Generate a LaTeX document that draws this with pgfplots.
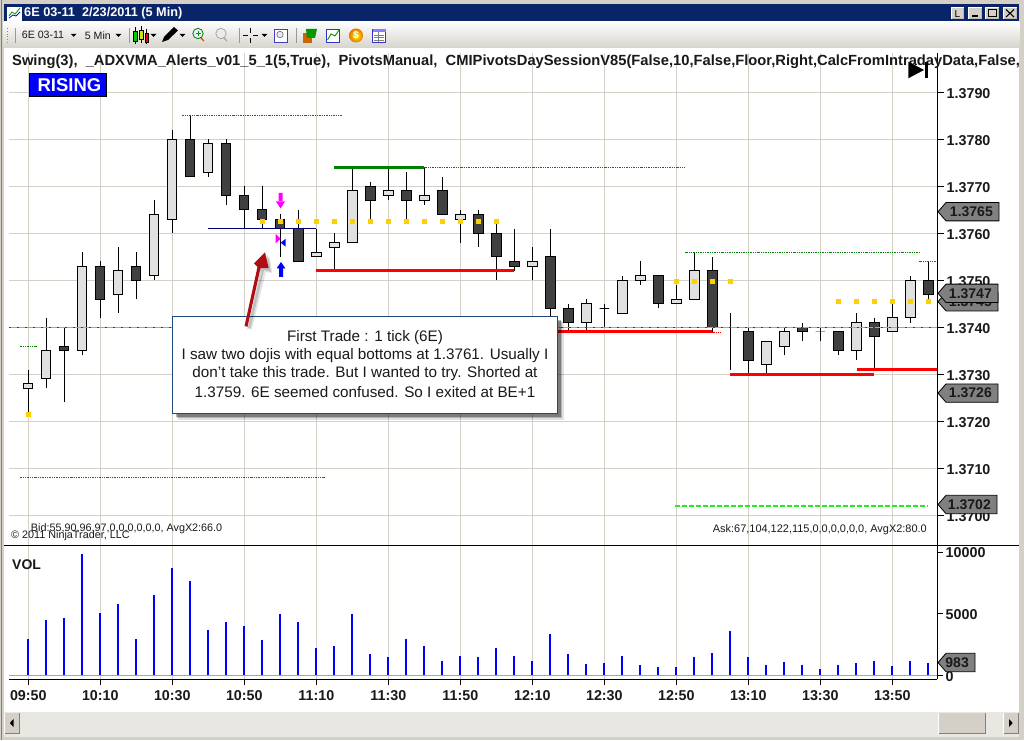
\documentclass[border=0pt]{standalone}
\usepackage{fontspec}
\setmainfont{Liberation Sans}
\usepackage{pgfplots}
\usepackage{pgfplotstable}
\pgfplotsset{compat=1.18}
\definecolor{gridc}{HTML}{D4D0C8}
\definecolor{upc}{HTML}{E0E0E0}
\definecolor{dnc}{HTML}{404040}
\definecolor{dotc}{HTML}{FFD000}
\definecolor{navy}{HTML}{0A246A}
\definecolor{dgreen}{HTML}{008000}
\definecolor{tagc}{HTML}{808080}
\definecolor{calc}{HTML}{1F497D}
\definecolor{arrowc}{HTML}{B00D14}
\definecolor{scrollc}{HTML}{E9E7E2}
\definecolor{magc}{HTML}{FF00FF}
\definecolor{limec}{HTML}{20F020}
\pgfplotstableread{
i open high low close
0 1.3727 1.3731 1.3721 1.3728
1 1.3729 1.3742 1.3727 1.3735
2 1.3736 1.3740 1.3724 1.3735
3 1.3735 1.3756 1.3734 1.3753
4 1.3753 1.3754 1.3742 1.3746
5 1.3747 1.3757 1.3743 1.3752
6 1.3753 1.3756 1.3746 1.3750
7 1.3751 1.3767 1.3750 1.3764
8 1.3763 1.3782 1.3760 1.3780
9 1.3780 1.3785 1.3772 1.3772
10 1.3773 1.3780 1.3772 1.3779
11 1.3779 1.3780 1.3766 1.3768
12 1.3768 1.3770 1.3761 1.3765
13 1.3765 1.3770 1.3761 1.3763
14 1.3763 1.3764 1.3755 1.3761
15 1.3761 1.3765 1.3754 1.3754
16 1.3755 1.3761 1.3755 1.3756
17 1.3757 1.3760 1.3752 1.3758
18 1.3758 1.3774 1.3758 1.3769
19 1.3770 1.3771 1.3762 1.3767
20 1.3768 1.3774 1.3767 1.3769
21 1.3769 1.3773 1.3763 1.3767
22 1.3767 1.3774 1.3766 1.3768
23 1.3769 1.3772 1.3764 1.3764
24 1.3763 1.3765 1.3758 1.3764
25 1.3764 1.3765 1.3757 1.3760
26 1.3760 1.3763 1.3750 1.3755
27 1.3754 1.3761 1.3752 1.3753
28 1.3753 1.3757 1.3750 1.3754
29 1.3755 1.3761 1.3742 1.3744
30 1.3744 1.3745 1.3739 1.3741
31 1.3741 1.3746 1.3739 1.3745
32 1.3744 1.3745 1.3740 1.3744
33 1.3743 1.3751 1.3743 1.3750
34 1.3750 1.3754 1.3749 1.3751
35 1.3751 1.3751 1.3744 1.3745
36 1.3745 1.3749 1.3745 1.3746
37 1.3746 1.3756 1.3746 1.3752
38 1.3752 1.3755 1.3739 1.3740
39 1.3740 1.3743 1.3731 1.3740
40 1.3739 1.3740 1.3730 1.3733
41 1.3732 1.3737 1.3730 1.3737
42 1.3736 1.3740 1.3734 1.3739
43 1.3740 1.3741 1.3737 1.3739
44 1.3739 1.3740 1.3737 1.3739
45 1.3739 1.3739 1.3734 1.3735
46 1.3735 1.3743 1.3733 1.3741
47 1.3741 1.3742 1.3731 1.3738
48 1.3739 1.3745 1.3739 1.3742
49 1.3742 1.3751 1.3741 1.3750
50 1.3750 1.3754 1.3746 1.3747
}\candles
\pgfplotstableread{
i vol
0 2920
1 4460
2 4620
3 9810
4 5030
5 5760
6 2920
7 6490
8 8680
9 7620
10 3650
11 4300
12 3970
13 2840
14 4950
15 4300
16 2190
17 2350
18 4950
19 1700
20 1460
21 2920
22 2350
23 1135
24 1540
25 1460
26 2190
27 1570
28 1160
29 3350
30 1730
31 920
32 1000
33 1570
34 840
35 680
36 680
37 1490
38 1810
39 3590
40 1490
41 840
42 1080
43 840
44 510
45 840
46 1000
47 1160
48 760
49 1160
50 983
}\voltable
\newcommand\fs[1]{\fontsize{#1pt}{#1pt}\selectfont}
\newcommand\ptag[3]{%
  \draw[fill=tagc,draw=black,line width=0.8pt] (938,#1) -- (946,{#1-9.2}) -- (#2,{#1-9.2}) -- (#2,{#1+9.2}) -- (946,{#1+9.2}) -- cycle;
  \node[font=\fs{14}\bfseries,text=black!90,anchor=east,inner sep=0pt] at ({#2-6},#1) {#3};}
\newcommand\btn[4]{%
  \fill[white] (#1,#2) rectangle (#3,#4);
  \fill[gridc!70!gray] ({#1+1},{#2+1}) rectangle (#3,#4);
  \fill[gridc] ({#1+1},{#2+1}) rectangle ({#3-1},{#4-1});}
\tikzset{dd/.style={dash pattern=on 2.2pt off 1pt on 1pt off 1pt on 1pt off 1pt,line width=0.9pt}}
\pgfplotsset{common/.style={
  scale only axis,width=928pt,
  xmin=-1.072,xmax=50.48,
  axis y line=right,axis x line=bottom,
  axis line style={-,black,line width=1pt},
  xtick={0,4,...,48},
  x grid style={gridc,line width=1pt},
  y grid style={gridc,line width=1pt},
  xmajorgrids,
  tick align=outside,
  major tick length=7pt,
  tick style={black,line width=1pt},
  scaled y ticks=false,
  tick label style={font=\fs{14.3}\bfseries,text=black!90},
  yticklabel style={anchor=west,inner xsep=2.5pt,yshift=-0.8pt,
     /pgf/number format/assume math mode=true},
}}
\begin{document}
\begin{tikzpicture}[x=1pt,y=1pt]
\path[use as bounding box] (0,0) rectangle (1024,740);
\fill[white] (0,0) rectangle (1024,740);
%---- price panel
\begin{axis}[common,at={(9pt,195pt)},anchor=south west,height=492pt,
  ymin=1.369368,ymax=1.379836,
  ytick={1.37,1.371,1.372,1.373,1.374,1.375,1.376,1.377,1.378,1.379},
  ymajorgrids,
  yticklabel style={/pgf/number format/fixed,/pgf/number format/fixed zerofill,/pgf/number format/precision=4},
  xticklabels={},
  x axis line style={draw=none},
  major x tick style={draw=none},
]
\pgfplotsinvokeforeach{0,...,50}{%
  \pgfplotstablegetelem{#1}{open}\of\candles\let\oo\pgfplotsretval
  \pgfplotstablegetelem{#1}{high}\of\candles\let\hh\pgfplotsretval
  \pgfplotstablegetelem{#1}{low}\of\candles\let\ll\pgfplotsretval
  \pgfplotstablegetelem{#1}{close}\of\candles\let\cc\pgfplotsretval
  \pgfmathsetmacro\xa{#1-0.26}\pgfmathsetmacro\xb{#1+0.26}
  \pgfmathtruncatemacro\isdn{\cc<\oo}
  \addplot[black,line width=1pt,forget plot] coordinates {(#1,\ll) (#1,\hh)};
  \ifnum\isdn=1
    \addplot[draw=black,fill=dnc,line width=1pt,forget plot] coordinates {(\xa,\oo) (\xb,\oo) (\xb,\cc) (\xa,\cc)} -- cycle;
  \else
    \addplot[draw=black,fill=upc,line width=1pt,forget plot] coordinates {(\xa,\oo) (\xb,\oo) (\xb,\cc) (\xa,\cc)} -- cycle;
  \fi
}
% pivot line at 1.3740
\addplot[red!50,line width=1pt,forget plot] coordinates {(-1.072,1.374) (50.48,1.374)};
\addplot[red!85!black,line width=1pt,dash pattern=on 2pt off 6pt,forget plot] coordinates {(-1.072,1.374) (50.48,1.374)};
% swing lines
\addplot[dgreen,dd,forget plot] coordinates {(8.54,1.3785) (17.43,1.3785)};
\addplot[dgreen,line width=3pt,forget plot] coordinates {(17,1.3774) (22,1.3774)};
\addplot[dgreen,dd,forget plot] coordinates {(22,1.3774) (36.47,1.3774)};
\addplot[dgreen,dd,forget plot] coordinates {(36.5,1.3756) (49.5,1.3756)};
\addplot[dgreen,dd,forget plot] coordinates {(49.5,1.3754) (50.4,1.3754)};
\addplot[dgreen,dd,forget plot] coordinates {(-0.46,1.3736) (0.48,1.3736)};
\addplot[red,dd,forget plot] coordinates {(-0.46,1.3708) (16.48,1.3708)};
\addplot[red,line width=3pt,forget plot] coordinates {(16,1.3752) (27,1.3752)};
\addplot[red,line width=3pt,forget plot] coordinates {(29,1.3739) (38,1.3739)};
\addplot[red,dd,forget plot] coordinates {(38,1.3739) (38.5,1.3739)};
\addplot[red,line width=3pt,forget plot] coordinates {(39,1.3730) (47,1.3730)};
\addplot[red,line width=3pt,forget plot] coordinates {(46.03,1.3731) (50.5,1.3731)};
\addplot[blue!45!black,line width=1pt,forget plot] coordinates {(10,1.3761) (16,1.3761)};
\addplot[limec,line width=2pt,dash pattern=on 5pt off 2pt,forget plot] coordinates {(35.9,1.3702) (50,1.3702)};
% ADXVMA dots
\addplot[only marks,mark=square*,mark size=2pt,mark options={dotc,draw=dotc,line width=0pt},forget plot] coordinates {
 (0.03,1.37215)
 (13.03,1.37625)(14.03,1.37625)(15.03,1.37625)(16.03,1.37625)(17.03,1.37625)(18.03,1.37625)(19.03,1.37625)
 (20.03,1.37625)(21.03,1.37625)(22.03,1.37625)(23.03,1.37625)(24.03,1.37625)(25.03,1.37625)(26.03,1.37625)
 (36.03,1.37497)(37.03,1.37497)(38.03,1.37497)(39.03,1.37497)
 (45.03,1.37455)(46.03,1.37455)(47.03,1.37455)(48.03,1.37455)(49.03,1.37455)(50.03,1.37455)};
\end{axis}
%---- volume panel
\begin{axis}[common,at={(9pt,60.7pt)},anchor=south west,height=134.3pt,
  ymin=-324,ymax=10568,
  ytick={0,5000,10000},
  yticklabel style={/pgf/number format/set thousands separator={}},
  xticklabels={09:50,10:10,10:30,10:50,11:10,11:30,11:50,12:10,12:30,12:50,13:10,13:30,13:50},
  xticklabel style={inner ysep=5pt},
  major tick length=6pt,
]
\addplot[color=black!35,line width=1pt,forget plot] coordinates {(-1.072,0) (50.48,0)};
\addplot[ycomb,blue,line width=2pt,mark=none,forget plot] table[x=i,y=vol] {\voltable};
\end{axis}
%---- everything else in image pixels
\begin{scope}[x=1pt,y=-1pt,yshift=740pt]
% chart captions
\node[anchor=west,inner sep=0pt,font=\fs{14.72}\bfseries,text=black!90] at (12,62) {Swing(3),\ \ \_ADXVMA\_Alerts\_v01\_5\_1(5,True),\ \ PivotsManual,\ \ CMIPivotsDaySessionV85(False,10,False,Floor,Right,CalcFromIntradayData,False,};
\fill[black] (908.3,61.7) -- (924,70) -- (908.3,78.3) -- cycle;
\fill[black] (925.3,61.7) rectangle (928.3,78.3);
\draw[fill=blue,draw=black,line width=1pt] (29.3,73.5) rectangle (106.5,96.5);
\node[font=\fs{18.5}\bfseries,text=white,inner sep=0pt] at (69.5,85) {RISING};
\node[anchor=west,inner sep=0pt,font=\fs{14}\bfseries,text=black!90] at (12,565) {VOL};
\node[anchor=west,inner sep=0pt,font=\fs{10.8},text=black!90] at (30.7,529) {Bid:55,90,96,97,0,0,0,0,0,0, AvgX2:66.0};
\node[anchor=west,inner sep=0pt,font=\fs{10.8},text=black!90] at (11,536) {© 2011 NinjaTrader, LLC};
\node[anchor=east,inner sep=0pt,font=\fs{10.95},text=black!90] at (927,529.5) {Ask:67,104,122,115,0,0,0,0,0,0, AvgX2:80.0};
\draw[black,line width=1pt] (4,545) -- (1019,545);
% price tags
\ptag{211.7}{999}{1.3765}
\ptag{301.7}{998}{1.3745}
\ptag{293.3}{998}{1.3747}
\ptag{393.1}{998}{1.3726}
\ptag{504.5}{997}{1.3702}
\ptag{662.5}{975}{983}
% entry / exit markers
\fill[magc] (278.5,193) rectangle (282.5,202) (276,201.5) -- (285,201.5) -- (280.5,208.5) -- cycle;
\fill[blue] (279,268) rectangle (283,277) (276.5,268.5) -- (285.5,268.5) -- (281,262) -- cycle;
\fill[magc] (275.7,234) -- (280.7,238.7) -- (275.7,243.3) -- cycle;
\fill[blue] (285.7,238.7) -- (280.7,242.7) -- (285.7,246.7) -- cycle;
% callout
\fill[black,opacity=.12] (178,322) rectangle (564,420);
\fill[black,opacity=.2] (177,321) rectangle (562,418);
\fill[black,opacity=.3] (176,320) rectangle (561,417);
\draw[fill=white,draw=calc,line width=1pt] (172.4,316.8) rectangle (557.6,413.3);
\node[inner sep=0pt,font=\fs{15.25},text=black!90] at (365,337.3) {First Trade : 1 tick (6E)};
\node[inner sep=0pt,font=\fs{15.25},text=black!90] at (365,355.7) {I saw two dojis with equal bottoms at 1.3761. Usually I};
\node[inner sep=0pt,font=\fs{15.25},text=black!90] at (365,373.5) {don't take this trade. But I wanted to try. Shorted at};
\node[inner sep=0pt,font=\fs{15.25},text=black!90] at (365,391.8) {1.3759. 6E seemed confused. So I exited at BE+1};
% big arrow
\fill[black,opacity=.10] (247,329) -- (252,329) -- (266,272) -- (272,273) -- (270,257) -- (258,270) -- (262,271) -- cycle;
\fill[black,opacity=.16] (248,328) -- (250.5,328.5) -- (264,270) -- (271,272) -- (268,255) -- (257,268) -- (260.5,269.5) -- cycle;
\fill[arrowc] (244.5,326) -- (247.5,326.8) -- (260.5,268) -- (268.7,268.2) -- (265,252.3) -- (254,263.5) -- (257.5,267) -- cycle;
% window frame
\fill[gridc] (0,0) rectangle (1024,4);
\fill[gridc] (0,0) rectangle (3.7,740);
\fill[gridc] (1019.3,0) rectangle (1024,740);
\fill[gridc] (0,737) rectangle (1024,740);
\draw[gray,line width=.6pt] (1.2,0) -- (1.2,740);
\fill[navy] (3.7,4) rectangle (1019.3,22);
\node[anchor=west,inner sep=0pt,font=\fs{12.7}\bfseries,text=white] at (24,13) {6E 03-11\ \ 2/23/2011 (5 Min)};
\draw[fill=white,draw=white] (7.5,7) rectangle (21,20);
\draw[green!60!black,line width=.8pt] (9,16) -- (12,12) -- (15,14) -- (20,8);
\draw[blue,line width=.8pt] (9,18) -- (13,15) -- (16,16) -- (20,12);
\btn{950.7}{7}{963.7}{19.5}
\node[inner sep=0pt,font=\fs{10}] at (957.5,14) {L};
\btn{968.3}{7}{981.7}{19.5}
\fill[black] (971.5,15.5) rectangle (977.5,17);
\btn{985}{7}{999.3}{19.5}
\draw[black,line width=1pt] (988,9.5) rectangle (996.5,17);
\btn{1002.7}{7}{1017.3}{19.5}
\draw[black,line width=1.1pt] (1006,9.5) -- (1014,17) (1014,9.5) -- (1006,17);
% toolbar
\shade[top color=white!96!gridc,bottom color=gridc!90!white] (3.7,22) rectangle (1019.3,47.5);
\draw[black!45,line width=.8pt,dotted] (7,28) -- (7,43);
\draw[black!40,line width=.7pt] (15,28) -- (15,43) (129,28) -- (129,43) (239,28) -- (239,43) (296.5,28) -- (296.5,43);
\node[anchor=west,inner sep=0pt,font=\fs{10.6},text=black!90] at (21.7,35.3) {6E 03-11};
\node[anchor=west,inner sep=0pt,font=\fs{10.6},text=black!90] at (84.7,35.3) {5 Min};
\foreach \xx in {73.7,118.5,153.5,182.5,264.5}{\fill[black] (\xx-2.8,34) -- (\xx+2.8,34) -- (\xx,36.8) -- cycle;}
\draw[black,line width=.8pt] (135,27.5)--(135,44) (141,26.5)--(141,43) (146.5,29)--(146.5,44.5);
\draw[fill=green!80!black,draw=black,line width=.5pt] (133.3,31) rectangle (136.8,41);
\draw[fill=yellow!80!green,draw=black,line width=.5pt] (139.2,30) rectangle (142.8,39);
\draw[fill=red,draw=black,line width=.5pt] (144.8,33) rectangle (148.3,42);
\fill[black] (162,42) -- (164,37) -- (174,27) -- (178,30.5) -- (168,40) -- cycle;
\draw[orange!70!black,line width=1.4pt] (204,41) -- (200,37);
\draw[fill=blue!8,draw=green!50!black,line width=.8pt] (198,33.5) circle (5.2);
\draw[green!60!black,line width=1pt] (195.5,33.5) -- (200.5,33.5) (198,31) -- (198,36);
\draw[black!35,line width=1.4pt] (227,41) -- (223,37);
\draw[fill=black!8,draw=black!35,line width=.8pt] (221,33.5) circle (5.2);
\draw[black,line width=1.6pt] (243,35.5) -- (248,35.5) (253,35.5) -- (258,35.5) (250.5,28) -- (250.5,33) (250.5,38) -- (250.5,43);
\draw[fill=white,draw=blue!50!gray,line width=.7pt] (274.5,29) rectangle (287.5,42);
\draw[fill=blue!10,draw=black!60,line width=.6pt] (280,34.5) circle (3.2);
\fill[orange!80!black] (303,33) rectangle (312,43);
\fill[green!60!black] (306,29) -- (317,29) -- (315,38) -- (307,38) -- cycle;
\draw[fill=white,draw=blue!60!gray,line width=.7pt] (326.5,29) rectangle (339.5,42);
\draw[green!60!black,line width=.9pt] (327.5,40) -- (331,34) -- (335,36) -- (339,30);
\shade[inner color=yellow,outer color=orange!90!black] (356,35.5) circle (7);
\node[inner sep=0pt,font=\fs{10}\bfseries,text=white] at (356,35.5) {\$};
\draw[fill=white,draw=blue!60!gray,line width=.7pt] (372.5,29) rectangle (385.5,42);
\fill[blue!50!white] (372.5,29) rectangle (385.5,32);
\draw[black!50,line width=.5pt] (374,35) -- (384,35) (374,37.5) -- (384,37.5) (374,40) -- (384,40) (378,32) -- (378,42);
% scrollbar
\fill[scrollc] (3.7,712.3) rectangle (1019.3,737);
\foreach \a/\b in {4/19.7,937.7/986,1003/1019}{
  \fill[white] (\a,712.5) rectangle (\b,734);
  \fill[gray] (\a+.8,713.3) rectangle (\b,734);
  \fill[gridc] (\a+.8,713.3) rectangle (\b-1,733.2);}
\fill[black] (13.5,719) -- (9.8,723) -- (13.5,727) -- cycle;
\fill[black] (1009,719) -- (1012.7,723) -- (1009,727) -- cycle;
\end{scope}
\end{tikzpicture}
\end{document}
